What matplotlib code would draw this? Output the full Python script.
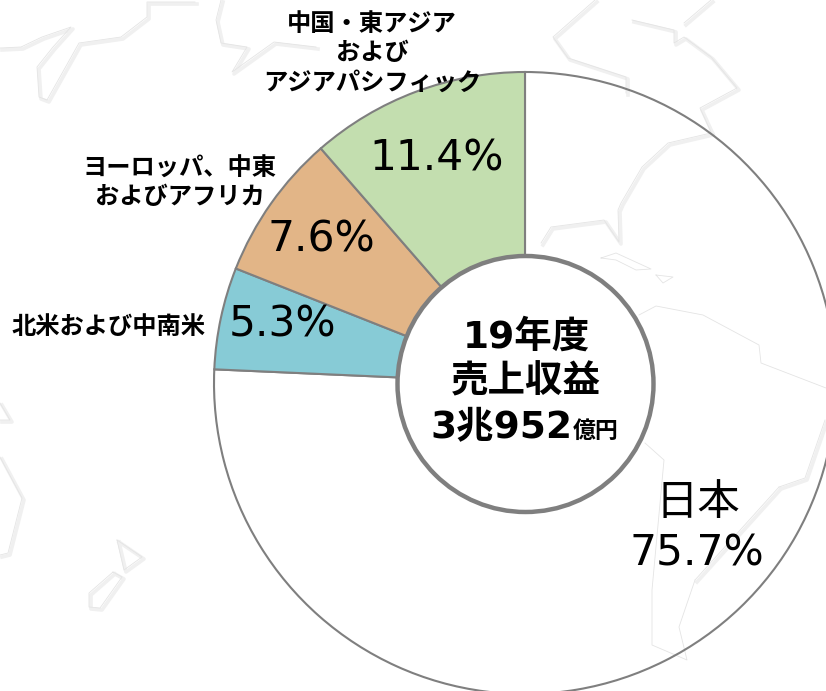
import matplotlib
matplotlib.use('Agg')
import matplotlib.pyplot as plt
from matplotlib.patches import Circle

regions = ['日本', '北米および中南米', 'ヨーロッパ、中東\nおよびアフリカ', '中国・東アジア\nおよび\nアジアパシフィック']
shares = [75.7, 5.3, 7.6, 11.4]
colors = ['none', '#87cbd6', '#e2b587', '#c3deaf']

# faint world map behind the chart, in pixels of the picture
map_lines = [
    [(0, 48), (21, 47), (42, 37), (71, 27), (53, 47), (37, 67), (39, 97), (47, 100), (79, 43), (121, 37), (147, 17), (147, 2), (195, 2)],
    [(221, 0), (216, 20), (221, 43), (247, 47), (232, 72), (274, 42), (316, 47)],
    [(595, 0), (553, 37), (568, 58), (626, 77), (626, 93)],
    [(632, 20), (674, 30), (674, 43), (684, 37), (711, 57), (737, 88), (700, 108), (711, 132)],
    [(684, 23), (711, 0)],
    [(711, 133), (668, 143), (642, 167), (621, 203), (618, 210), (619, 242), (604, 220), (551, 227), (541, 243)],
    [(779, 487), (805, 478), (825, 420)],
    [(695, 580), (779, 487)],
    [(117, 540), (124, 570), (142, 557), (117, 540)],
    [(113, 572), (89, 593), (89, 607), (100, 608), (122, 577), (113, 572)],
    [(0, 457), (22, 498), (8, 553), (0, 555)],
    [(0, 403), (10, 420), (0, 420)],
]
thin_lines = [
    [(601, 258), (616, 253), (651, 269), (636, 270), (616, 260), (601, 258)],
    [(656, 275), (673, 277), (663, 283), (656, 275)],
    [(639, 315), (656, 306), (703, 315), (759, 345), (761, 363), (826, 388)],
    [(645, 443), (664, 460), (652, 590), (652, 645), (687, 660), (679, 627), (695, 580)],
]

jp = ['DejaVu Sans', 'Noto Sans CJK JP']
W, H = 826, 691

fig = plt.figure(figsize=(W / 100, H / 100), dpi=100)
ax = fig.add_axes([0, 0, 1, 1])

for line in map_lines:
    xs = [p[0] for p in line]
    ys = [H - p[1] for p in line]
    ax.plot([x + 2 for x in xs], [y - 2 for y in ys], color='#f0f0f0', lw=2.6, zorder=0)
    ax.plot(xs, ys, color='#e4e4e4', lw=0.6, zorder=0.5)
for line in thin_lines:
    ax.plot([p[0] for p in line], [H - p[1] for p in line], color='#e4e4e4', lw=0.6, zorder=0.5)

ax.pie(shares, colors=colors, startangle=90, counterclock=False, radius=311, center=(525, H - 383),
       wedgeprops={'edgecolor': '#7f7f7f', 'linewidth': 1.5, 'zorder': 1})
ax.set_xlim(0, W)
ax.set_ylim(0, H)
ax.axis('off')

ax.add_patch(Circle((525.5, H - 384), 128, facecolor='white', edgecolor='#7f7f7f', lw=3.2, zorder=2))


def put(x, y, s, size, weight='normal', ha='center', linespacing=1.0):
    ax.text(x, H - y, s, fontsize=size, fontweight=weight, ha=ha, va='center', family=jp,
            color='black', linespacing=linespacing, zorder=3)


put(372, 53, regions[3], 17.5, 'bold', linespacing=1.28)
put(180, 183, regions[2], 17.5, 'bold', linespacing=1.22)
put(109, 327, regions[1], 17.5, 'bold')

put(437, 158, '11.4%', 30.5)
put(321, 239, '7.6%', 30.5)
put(283, 324, '5.3%', 30.5)
put(698, 503, regions[0], 30.5)
put(697, 554, '75.7%', 30.5)

put(526, 338, '19年度', 27, 'bold')
put(526, 382, '売上収益', 27, 'bold')
put(572, 428, '3兆952', 27, 'bold', ha='right')
put(573, 431, '億円', 16.5, 'bold', ha='left')

fig.savefig('out.png', dpi=100)
